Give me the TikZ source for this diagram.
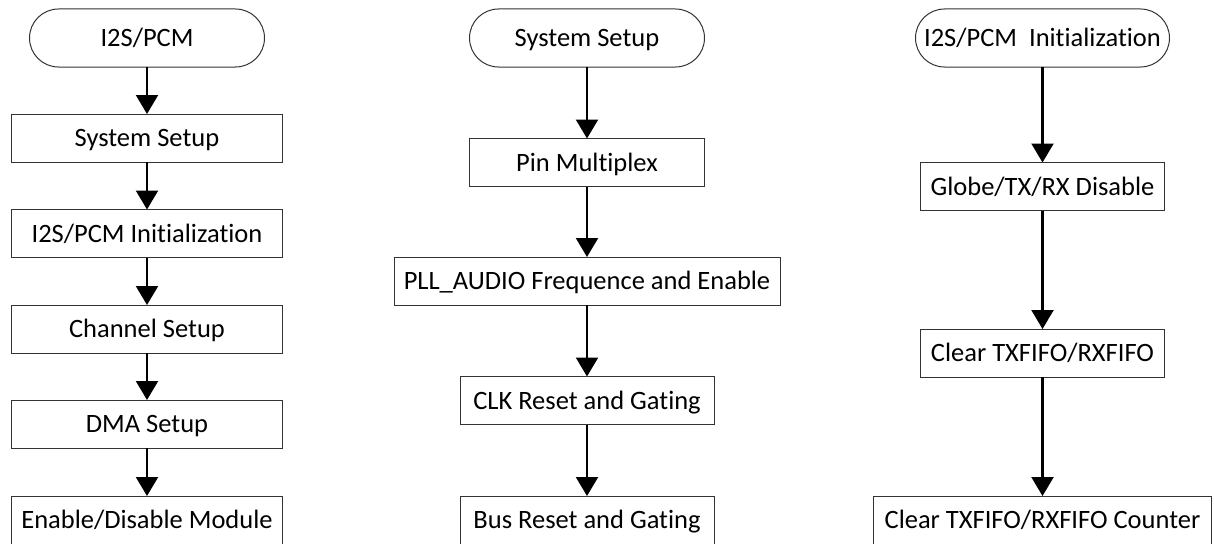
\documentclass[tikz,border=0pt]{standalone}
\usepackage{fontspec}
\setmainfont{Carlito}[Ligatures={NoCommon}]
\usetikzlibrary{arrows.meta}
\begin{document}
\begin{tikzpicture}[x=1pt,y=-1pt,
  box/.style={draw=black!80, line width=1pt, fill=white, minimum height=48pt,
    inner sep=0pt, outer sep=0pt, text height=17pt, text depth=0pt,
    font=\fontsize{26.5}{30}\selectfont},
  term/.style={box, rounded corners=29pt, minimum height=58pt},
  flow/.style={line width=2.2pt, -{Triangle[width=22pt,length=19pt]}}]
\useasboundingbox (0,0) rectangle (1214,543);
% left column
\node[term, minimum width=235pt] (l0) at (147,38) {I2S/PCM};
\node[box, minimum width=271pt] (l1) at (147,138) {System Setup};
\node[box, minimum width=271pt] (l2) at (147,233.5) {I2S/PCM Initialization};
\node[box, minimum width=271pt] (l3) at (147,329) {Channel Setup};
\node[box, minimum width=271pt] (l4) at (147,424) {DMA Setup};
\node[box, minimum width=271pt] (l5) at (147,520) {Enable/Disable Module};
% middle column
\node[term, minimum width=235pt] (m0) at (587,38) {System Setup};
\node[box, minimum width=235pt] (m1) at (587,162.5) {Pin Multiplex};
\node[box, minimum width=386pt] (m2) at (587,281) {PLL\_AUDIO Frequence and Enable};
\node[box, minimum width=254pt] (m3) at (587,400.5) {CLK Reset and Gating};
\node[box, minimum width=254pt] (m4) at (587,520) {Bus Reset and Gating};
% right column
\node[term, minimum width=254pt] (r0) at (1042.5,38) {I2S/PCM\ \ Initialization};
\node[box, minimum width=244pt] (r1) at (1042.5,186.5) {Globe/TX/RX Disable};
\node[box, minimum width=244pt] (r2) at (1042.5,353) {Clear TXFIFO/RXFIFO};
\node[box, minimum width=338pt] (r3) at (1042.5,520) {Clear TXFIFO/RXFIFO Counter};
% connectors
\foreach \a/\b in {l0/l1,l1/l2,l2/l3,l3/l4,l4/l5,m0/m1,m1/m2,m2/m3,m3/m4,r0/r1,r1/r2,r2/r3}
  \draw[flow] (\a.south) -- (\b.north);
\end{tikzpicture}
\end{document}
